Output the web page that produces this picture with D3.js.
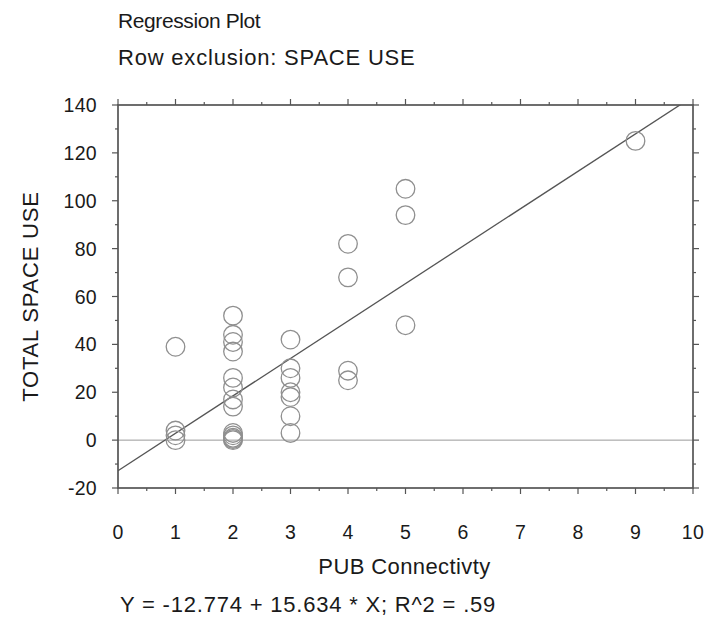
<!DOCTYPE html>
<html lang="en">
<head>
<meta charset="UTF-8">
<title>Regression Plot</title>
<script src="https://d3js.org/d3.v7.min.js"></script>
<style>
body { margin: 0; background: #fff; }
text { font-family: "Liberation Sans", Arial, Helvetica, sans-serif; fill: #1a1a1a; }
.frame { fill: none; stroke: #555; stroke-width: 1.7; }
.tick-mark { stroke: #555; stroke-width: 1.2; }
.zero { stroke: #999; stroke-width: 1; }
.fit { stroke: #555; stroke-width: 1.3; fill: none; }
.pt { fill: none; stroke: #8f8f8f; stroke-width: 1.3; }
</style>
</head>
<body>
<div id="chart"></div>
<script>
// data
const pubConnectivity = [1, 1, 1, 1,
  2, 2, 2, 2, 2, 2, 2, 2, 2, 2, 2, 2, 2,
  3, 3, 3, 3, 3, 3, 3,
  4, 4, 4, 4,
  5, 5, 5,
  9];
const totalSpaceUse = [39, 4, 2, 0,
  52, 44, 41, 37, 26, 22, 17, 14, 3, 2, 1, 0.5, 0,
  42, 30, 26, 20, 18, 10, 3,
  82, 68, 29, 25,
  105, 94, 48,
  125];
const xTicks = [0, 1, 2, 3, 4, 5, 6, 7, 8, 9, 10];
const yTicks = [-20, 0, 20, 40, 60, 80, 100, 120, 140];
const intercept = -12.774;
const slope = 15.634;
const titleLines = ["Regression Plot", "Row exclusion: SPACE USE"];
const xLabel = "PUB Connectivty";
const yLabel = "TOTAL SPACE USE";
const equation = "Y = -12.774 + 15.634 * X; R^2 = .59";

const W = 705, H = 618;
const margin = { top: 105, right: 12, bottom: 130, left: 118 };
const width = W - margin.left - margin.right;
const height = H - margin.top - margin.bottom;

const svg = d3.select("#chart").append("svg")
  .attr("width", W)
  .attr("height", H);

const g = svg.append("g")
  .attr("transform", `translate(${margin.left},${margin.top})`);

const x = d3.scaleLinear().domain([0, 10]).range([0, width]);
const y = d3.scaleLinear().domain([-20, 140]).range([height, 0]);

// clip
svg.append("defs").append("clipPath").attr("id", "clip")
  .append("rect").attr("width", width).attr("height", height);

// zero line
g.append("line").attr("class", "zero")
  .attr("x1", 0).attr("x2", width)
  .attr("y1", y(0)).attr("y2", y(0));

// regression line
const fitX = [0, 10];
g.append("path").attr("class", "fit")
  .attr("clip-path", "url(#clip)")
  .attr("d", d3.line().x(d => x(d)).y(d => y(intercept + slope * d))(fitX));

// points
g.selectAll(".pt")
  .data(pubConnectivity.map((v, i) => [v, totalSpaceUse[i]]))
  .join("circle")
  .attr("class", "pt")
  .attr("cx", d => x(d[0]))
  .attr("cy", d => y(d[1]))
  .attr("r", 9.3);

// frame
g.append("rect").attr("class", "frame")
  .attr("width", width).attr("height", height);

// ticks outward on every side, minor at half steps
const major = 6, minor = 3;
const xMinor = d3.range(0.5, 10, 1);
const yMinor = d3.range(-10, 140, 20);

function xTickMarks(vals, len) {
  vals.forEach(v => {
    g.append("line").attr("class", "tick-mark")
      .attr("x1", x(v)).attr("x2", x(v)).attr("y1", height).attr("y2", height + len);
    g.append("line").attr("class", "tick-mark")
      .attr("x1", x(v)).attr("x2", x(v)).attr("y1", 0).attr("y2", -len);
  });
}
function yTickMarks(vals, len) {
  vals.forEach(v => {
    g.append("line").attr("class", "tick-mark")
      .attr("x1", 0).attr("x2", -len).attr("y1", y(v)).attr("y2", y(v));
    g.append("line").attr("class", "tick-mark")
      .attr("x1", width).attr("x2", width + len).attr("y1", y(v)).attr("y2", y(v));
  });
}
xTickMarks(xTicks, major);
xTickMarks(xMinor, minor);
yTickMarks(yTicks, major);
yTickMarks(yMinor, minor);

// tick labels
g.selectAll(".xl").data(xTicks).join("text")
  .attr("x", d => x(d))
  .attr("y", height + 51)
  .attr("text-anchor", "middle")
  .style("font-size", "19.5px")
  .style("letter-spacing", "0.3px")
  .text(d => d);

g.selectAll(".yl").data(yTicks).join("text")
  .attr("x", -21)
  .attr("y", d => y(d) + 7)
  .attr("text-anchor", "end")
  .style("font-size", "19.5px")
  .style("letter-spacing", "0.3px")
  .text(d => d);

// axis titles
g.append("text")
  .attr("x", width / 2 - 1)
  .attr("y", height + 86)
  .attr("text-anchor", "middle")
  .style("font-size", "22px")
  .style("letter-spacing", "0.4px")
  .text(xLabel);

svg.append("text")
  .attr("transform", `translate(38,${margin.top + y(60)}) rotate(-90)`)
  .attr("text-anchor", "middle")
  .style("font-size", "22px")
  .style("letter-spacing", "0.8px")
  .text(yLabel);

// titles
svg.selectAll(".title").data(titleLines).join("text")
  .attr("x", 118)
  .attr("y", (d, i) => i ? 65 : 28)
  .style("font-size", (d, i) => i ? "22px" : "21px")
  .style("letter-spacing", (d, i) => i ? "0.8px" : "-0.4px")
  .text(d => d);

svg.append("text")
  .attr("x", 120)
  .attr("y", 612)
  .style("font-size", "22px")
  .style("letter-spacing", "0.8px")
  .text(equation);
</script>
</body>
</html>
